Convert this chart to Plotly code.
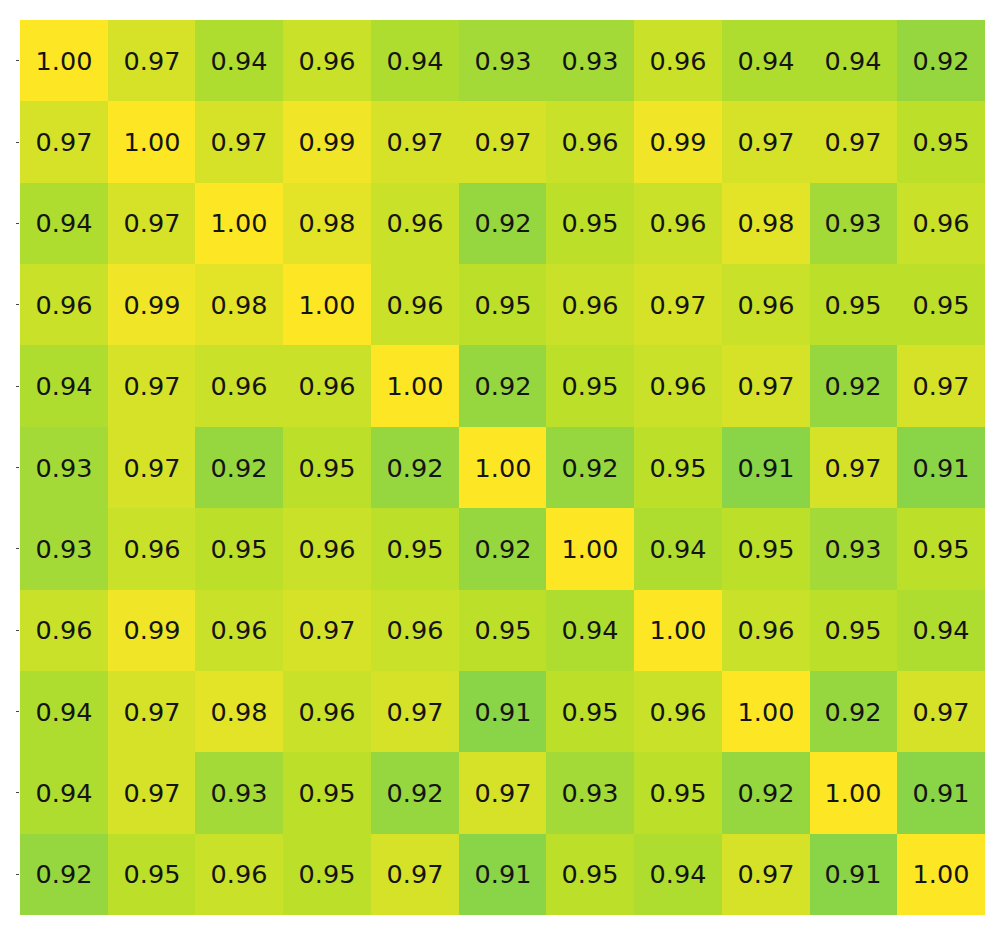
import plotly.graph_objects as go

# correlation matrix, rows read top to bottom
labels = [f"f{i}" for i in range(11)]
corr = [
    [1.00, 0.97, 0.94, 0.96, 0.94, 0.93, 0.93, 0.96, 0.94, 0.94, 0.92],
    [0.97, 1.00, 0.97, 0.99, 0.97, 0.97, 0.96, 0.99, 0.97, 0.97, 0.95],
    [0.94, 0.97, 1.00, 0.98, 0.96, 0.92, 0.95, 0.96, 0.98, 0.93, 0.96],
    [0.96, 0.99, 0.98, 1.00, 0.96, 0.95, 0.96, 0.97, 0.96, 0.95, 0.95],
    [0.94, 0.97, 0.96, 0.96, 1.00, 0.92, 0.95, 0.96, 0.97, 0.92, 0.97],
    [0.93, 0.97, 0.92, 0.95, 0.92, 1.00, 0.92, 0.95, 0.91, 0.97, 0.91],
    [0.93, 0.96, 0.95, 0.96, 0.95, 0.92, 1.00, 0.94, 0.95, 0.93, 0.95],
    [0.96, 0.99, 0.96, 0.97, 0.96, 0.95, 0.94, 1.00, 0.96, 0.95, 0.94],
    [0.94, 0.97, 0.98, 0.96, 0.97, 0.91, 0.95, 0.96, 1.00, 0.92, 0.97],
    [0.94, 0.97, 0.93, 0.95, 0.92, 0.97, 0.93, 0.95, 0.92, 1.00, 0.91],
    [0.92, 0.95, 0.96, 0.95, 0.97, 0.91, 0.95, 0.94, 0.97, 0.91, 1.00],
]

fig = go.Figure(go.Heatmap(
    z=corr, x=labels, y=labels,
    colorscale='Viridis', zmin=0.5, zmax=1.0, showscale=False,
    texttemplate="%{z:.2f}",
    textfont=dict(family="DejaVu Sans", size=25.5, color="#141414"),
    xgap=0, ygap=0,
))

# page has an 8px body margin, so the figure is a bit smaller than the window
fig.update_layout(
    width=979, height=928,
    margin=dict(l=12, r=2, t=12, b=21, autoexpand=False),
    plot_bgcolor='white', paper_bgcolor='white',
)
fig.update_xaxes(showticklabels=False, showgrid=False, zeroline=False, ticks='', automargin=False)
fig.update_yaxes(autorange='reversed', showticklabels=False, showgrid=False, zeroline=False,
                 ticks='outside', ticklen=3, tickcolor='#444444', tickwidth=1, automargin=False)

fig.write_html("out.html")
